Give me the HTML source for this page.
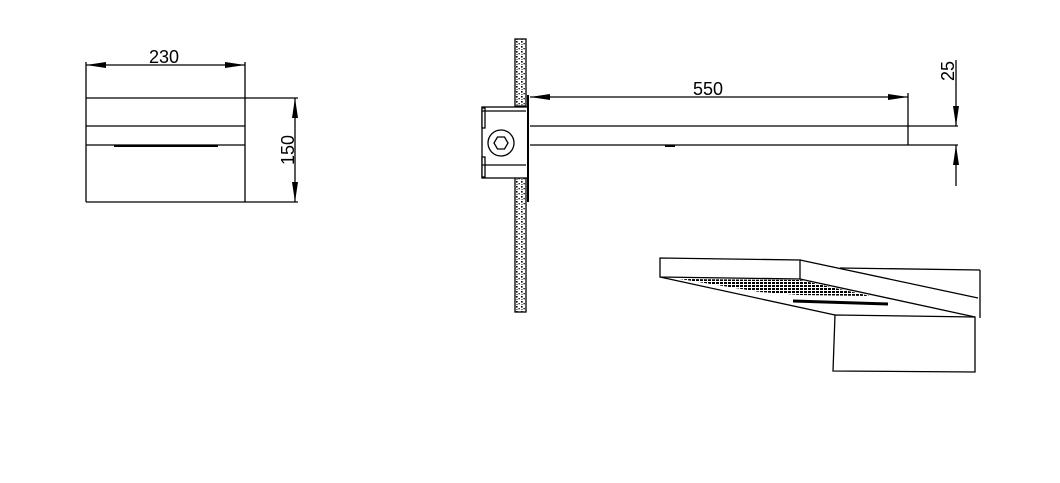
<!DOCTYPE html>
<html><head><style>
html,body{margin:0;padding:0;background:#fff;}
svg{display:block;}
text{font-family:"Liberation Sans",sans-serif;font-size:18px;fill:#000;}
</style></head><body>
<svg width="1060" height="483" viewBox="0 0 1060 483" xmlns="http://www.w3.org/2000/svg">
<defs>
<pattern id="sp" width="5" height="5" patternUnits="userSpaceOnUse">
<rect x="1" y="1" width="1.6" height="1.6" fill="#000"/><rect x="3.5" y="3" width="1.3" height="1.3" fill="#000"/><rect x="1.5" y="4" width="1" height="1" fill="#000"/>
</pattern>
<pattern id="dots" width="4" height="3" patternUnits="userSpaceOnUse">
<rect x="0" y="0" width="3" height="2" fill="#000"/>
</pattern>
</defs>
<g stroke="#000" stroke-width="1.3" fill="none">
<!-- left view -->
<line x1="86" y1="62" x2="86" y2="202"/>
<line x1="245" y1="62" x2="245" y2="202"/>
<line x1="86" y1="65" x2="245" y2="65"/>
<line x1="86" y1="98" x2="298" y2="98"/>
<line x1="86" y1="126" x2="245" y2="126"/>
<line x1="86" y1="145" x2="245" y2="145"/>
<line x1="86" y1="202" x2="298" y2="202"/>
<line x1="114" y1="146" x2="218" y2="146" stroke-width="2"/>
<line x1="295" y1="98" x2="295" y2="202"/>
<!-- wall -->
<rect x="515" y="39" width="11" height="67" fill="url(#sp)"/>
<rect x="515" y="175" width="11" height="137" fill="url(#sp)"/>
<!-- box -->
<rect x="482" y="107" width="46" height="71" fill="#fff"/>
<rect x="482" y="108" width="3" height="20" fill="#fff"/>
<rect x="482" y="157" width="3" height="20" fill="#fff"/>
<line x1="482" y1="111" x2="526" y2="111"/>
<line x1="482" y1="165" x2="526" y2="165"/>
<circle cx="501" cy="143" r="13"/>
<polygon points="494,143 497.5,137 504.5,137 508,143 504.5,149 497.5,149"/>
<rect x="527" y="95" width="2" height="107" fill="#000" stroke="none"/>
<!-- pipe -->
<line x1="530" y1="126" x2="958" y2="126"/>
<line x1="530" y1="145" x2="958" y2="145"/>
<line x1="908" y1="93" x2="908" y2="145"/>
<line x1="530" y1="97" x2="908" y2="97"/>
<line x1="956" y1="60" x2="956" y2="126"/>
<line x1="956" y1="145" x2="956" y2="186"/>
<line x1="665" y1="146" x2="675" y2="146" stroke-width="2"/>
<!-- perspective -->
<polygon points="660,258 800,260 800,279 660,277" fill="#fff"/>
<line x1="800" y1="260" x2="978" y2="298"/>
<line x1="840" y1="268" x2="980" y2="270"/>
<line x1="980" y1="270" x2="980" y2="318"/>
<line x1="800" y1="279" x2="975" y2="317"/>
<line x1="660" y1="277" x2="835" y2="315"/>
<polygon points="835,315 975,317 975,372 833,371"/>
<line x1="793" y1="301" x2="888" y2="304" stroke-width="3"/>
</g>
<polygon points="680,279 800,280 870,296 800,295 760,292" fill="url(#dots)"/>
<g fill="#000">
<polygon points="86,65 106,62 106,68"/>
<polygon points="245,65 225,62 225,68"/>
<polygon points="295,98 292,118 298,118"/>
<polygon points="295,202 292,182 298,182"/>
<polygon points="530,97 550,94 550,100"/>
<polygon points="908,97 888,94 888,100"/>
<polygon points="956,126 953,106 959,106"/>
<polygon points="956,145 953,165 959,165"/>
</g>
<text x="149" y="63">230</text>
<text x="693" y="95">550</text>
<text transform="translate(294,165) rotate(-90)">150</text>
<text transform="translate(954,81) rotate(-90)">25</text>
</svg>
</body></html>
